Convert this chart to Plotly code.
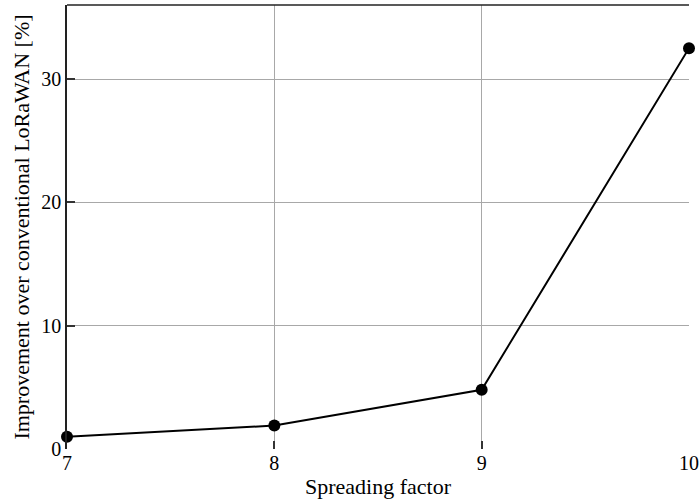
import plotly.graph_objects as go

spreading_factor = [7, 8, 9, 10]
improvement = [1.0, 1.9, 4.8, 32.5]
x_ticks = [7, 8, 9, 10]
y_ticks = [0, 10, 20, 30]

FONT = "Liberation Serif"

fig = go.Figure()
fig.add_trace(go.Scatter(
    x=spreading_factor, y=improvement, mode="lines+markers",
    line=dict(color="black", width=2),
    marker=dict(color="black", size=12),
    cliponaxis=False, showlegend=False,
))

fig.update_layout(
    width=700, height=503,
    margin=dict(l=67, r=11, t=5, b=54),
    paper_bgcolor="white", plot_bgcolor="white",
    font=dict(family=FONT, size=20, color="black"),
    xaxis=dict(
        range=[7, 10], tickvals=x_ticks, ticks="inside", ticklen=8,
        tickcolor="#333", tickwidth=1.5,
        showgrid=True, gridcolor="#a8a8a8", gridwidth=1,
        showline=False, zeroline=False, automargin=False,
        title=dict(text="Spreading factor", font=dict(size=22), standoff=5),
        tickfont=dict(size=20),
    ),
    yaxis=dict(
        range=[0, 36], tickvals=y_ticks, ticks="inside", ticklen=8,
        tickcolor="#333", tickwidth=1.5,
        showgrid=True, gridcolor="#a8a8a8", gridwidth=1,
        showline=True, linecolor="#222", linewidth=1.5, zeroline=False,
        automargin=False,
        title=dict(text="Improvement over conventional LoRaWAN [%]", font=dict(size=22), standoff=6),
        tickfont=dict(size=20),
    ),
    shapes=[dict(type="line", xref="paper", yref="paper", x0=0, x1=1, y0=1, y1=1,
                 line=dict(color="#222", width=1.5))],
)

fig.write_html("out.html", config={"displayModeBar": False},
               post_script="document.body.style.margin='0';")
